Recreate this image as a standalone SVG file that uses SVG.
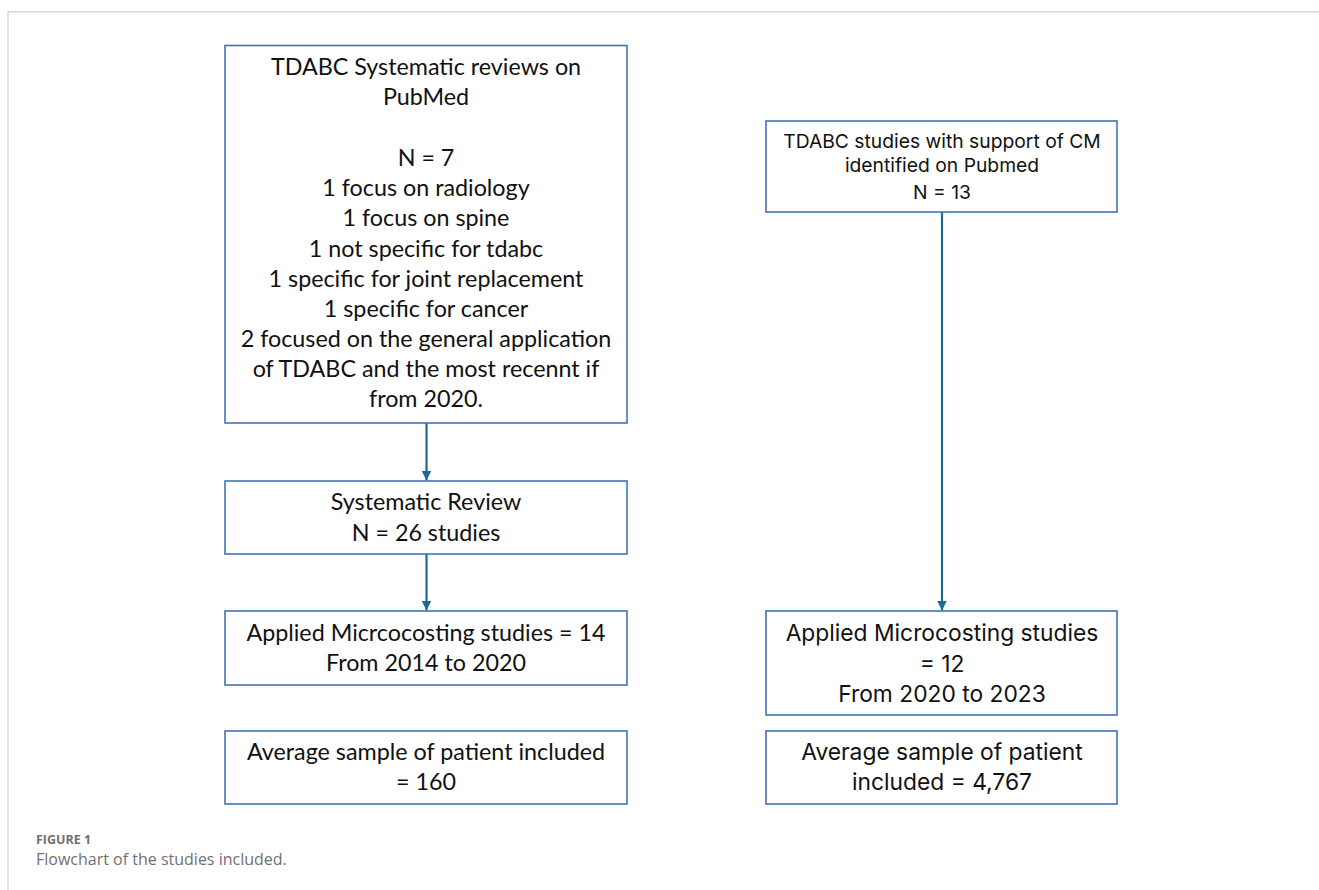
<svg xmlns="http://www.w3.org/2000/svg" width="1319" height="890" viewBox="0 0 1319 890">
<defs>
<style>
.box{fill:#fff;stroke:#4472b4;stroke-width:1.6}
.l{font-family:Lato,"Open Sans",sans-serif;font-size:23.3px;fill:#111;text-anchor:middle}
.r{font-family:Inter,"Liberation Sans",Arial,sans-serif;fill:#111;text-anchor:middle}
.conn{stroke:#1c6b92;stroke-width:2.2;fill:none}
.frame{stroke:#d9d9d9;stroke-width:1.5;fill:none}
.cap{font-family:"Open Sans",sans-serif;fill:#707070}
</style>
<marker id="ah" viewBox="0 0 10 10" refX="10" refY="5" markerWidth="10" markerHeight="10" markerUnits="userSpaceOnUse" orient="auto">
<path d="M0,0 L10,5 L0,10 Z" fill="#1c6b92"/>
</marker>
</defs>
<rect width="1319" height="890" fill="#fff"/>
<path class="frame" d="M8,890 L8,11.7 L1319,11.7"/>
<g id="connectors">
<line class="conn" x1="426.5" y1="423" x2="426.5" y2="480.5" marker-end="url(#ah)"/>
<line class="conn" x1="426.5" y1="554" x2="426.5" y2="610.5" marker-end="url(#ah)"/>
<line class="conn" x1="942" y1="212" x2="942" y2="610.5" marker-end="url(#ah)"/>
</g>
<g id="n1">
<rect class="box" x="225" y="45.5" width="402" height="377.5"/>
<text class="l" x="426" y="75">TDABC Systematic reviews on</text>
<text class="l" x="426" y="105">PubMed</text>
<text class="l" x="426" y="166">N = 7</text>
<text class="l" x="426" y="196">1 focus on radiology</text>
<text class="l" x="426" y="226">1 focus on spine</text>
<text class="l" x="426" y="257">1 not specific for tdabc</text>
<text class="l" x="426" y="287">1 specific for joint replacement</text>
<text class="l" x="426" y="317">1 specific for cancer</text>
<text class="l" x="426" y="347">2 focused on the general application</text>
<text class="l" x="426" y="377">of TDABC and the most recennt if</text>
<text class="l" x="426" y="407">from 2020.</text>
</g>
<g id="n2">
<rect class="box" x="225" y="481" width="402" height="73"/>
<text class="l" x="426" y="510">Systematic Review</text>
<text class="l" x="426" y="541">N = 26 studies</text>
</g>
<g id="n3">
<rect class="box" x="225" y="611" width="402" height="74"/>
<text class="l" x="426" y="641">Applied Micrcocosting studies = 14</text>
<text class="l" x="426" y="671">From 2014 to 2020</text>
</g>
<g id="n4">
<rect class="box" x="225" y="731" width="402" height="73"/>
<text class="l" x="426" y="760">Average sample of patient included</text>
<text class="l" x="426" y="790">= 160</text>
</g>
<g id="n5">
<rect class="box" x="766" y="121" width="351" height="91"/>
<text class="r" x="942" y="148" font-size="19.3">TDABC studies with support of CM</text>
<text class="r" x="942" y="172" font-size="19.3">identified on Pubmed</text>
<text class="r" x="942" y="199" font-size="19.3">N = 13</text>
</g>
<g id="n6">
<rect class="box" x="766" y="611" width="351" height="104"/>
<text class="r" x="942" y="641" font-size="22.8">Applied Microcosting studies</text>
<text class="r" x="942" y="672" font-size="22.8">= 12</text>
<text class="r" x="942" y="702" font-size="22.8">From 2020 to 2023</text>
</g>
<g id="n7">
<rect class="box" x="766" y="731" width="351" height="73"/>
<text class="r" x="942" y="760" font-size="22.8">Average sample of patient</text>
<text class="r" x="942" y="790" font-size="22.8">included = 4,767</text>
</g>
<g id="caption">
<text class="cap" x="36" y="844" font-size="12.5" font-weight="bold">FIGURE 1</text>
<text class="cap" x="36" y="865" font-size="16">Flowchart of the studies included.</text>
</g>
</svg>
